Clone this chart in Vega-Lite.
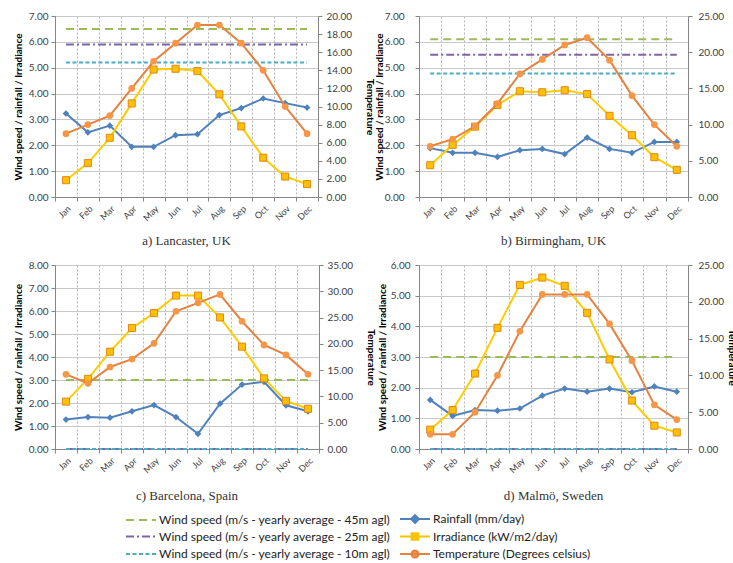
{
  "$schema": "https://vega.github.io/schema/vega-lite/v6.json",
  "padding": {"left": 13, "top": 11, "right": 5, "bottom": 5},
  "config": {
    "view": {"stroke": null},
    "font": "Lato",
    "axis": {"labelFont": "Lato", "titleFont": "Lato", "labelColor": "#404040", "titleColor": "#000000", "domainColor": "#868686", "tickColor": "#868686", "tickSize": 4, "labelFontSize": 10, "titleFontSize": 10, "titleFontWeight": "bold", "labelFlush": false, "labelOverlap": false},
    "title": {"orient": "bottom", "font": "Liberation Serif", "fontSize": 13, "fontWeight": "normal", "color": "#333333", "offset": 12, "anchor": "middle"}
  },
  "data": {"values": [
    {"c":"a","m":"Jan","rain":3.23,"irr":0.65,"temp":7.0,"w45":6.5,"w25":5.9,"w10":5.2},
    {"c":"a","m":"Feb","rain":2.50,"irr":1.31,"temp":8.0,"w45":6.5,"w25":5.9,"w10":5.2},
    {"c":"a","m":"Mar","rain":2.76,"irr":2.29,"temp":9.0,"w45":6.5,"w25":5.9,"w10":5.2},
    {"c":"a","m":"Apr","rain":1.94,"irr":3.62,"temp":12.0,"w45":6.5,"w25":5.9,"w10":5.2},
    {"c":"a","m":"May","rain":1.94,"irr":4.93,"temp":15.0,"w45":6.5,"w25":5.9,"w10":5.2},
    {"c":"a","m":"Jun","rain":2.39,"irr":4.96,"temp":17.0,"w45":6.5,"w25":5.9,"w10":5.2},
    {"c":"a","m":"Jul","rain":2.43,"irr":4.87,"temp":19.0,"w45":6.5,"w25":5.9,"w10":5.2},
    {"c":"a","m":"Aug","rain":3.17,"irr":3.97,"temp":19.0,"w45":6.5,"w25":5.9,"w10":5.2},
    {"c":"a","m":"Sep","rain":3.44,"irr":2.73,"temp":17.0,"w45":6.5,"w25":5.9,"w10":5.2},
    {"c":"a","m":"Oct","rain":3.81,"irr":1.52,"temp":14.0,"w45":6.5,"w25":5.9,"w10":5.2},
    {"c":"a","m":"Nov","rain":3.63,"irr":0.79,"temp":10.0,"w45":6.5,"w25":5.9,"w10":5.2},
    {"c":"a","m":"Dec","rain":3.46,"irr":0.50,"temp":7.0,"w45":6.5,"w25":5.9,"w10":5.2},
    {"c":"b","m":"Jan","rain":1.89,"irr":1.23,"temp":7.0,"w45":6.1,"w25":5.5,"w10":4.78},
    {"c":"b","m":"Feb","rain":1.71,"irr":2.02,"temp":8.0,"w45":6.1,"w25":5.5,"w10":4.78},
    {"c":"b","m":"Mar","rain":1.71,"irr":2.72,"temp":9.8,"w45":6.1,"w25":5.5,"w10":4.78},
    {"c":"b","m":"Apr","rain":1.55,"irr":3.56,"temp":12.9,"w45":6.1,"w25":5.5,"w10":4.78},
    {"c":"b","m":"May","rain":1.81,"irr":4.09,"temp":17.0,"w45":6.1,"w25":5.5,"w10":4.78},
    {"c":"b","m":"Jun","rain":1.86,"irr":4.05,"temp":19.0,"w45":6.1,"w25":5.5,"w10":4.78},
    {"c":"b","m":"Jul","rain":1.66,"irr":4.13,"temp":21.0,"w45":6.1,"w25":5.5,"w10":4.78},
    {"c":"b","m":"Aug","rain":2.30,"irr":3.98,"temp":22.0,"w45":6.1,"w25":5.5,"w10":4.78},
    {"c":"b","m":"Sep","rain":1.86,"irr":3.14,"temp":18.9,"w45":6.1,"w25":5.5,"w10":4.78},
    {"c":"b","m":"Oct","rain":1.71,"irr":2.39,"temp":14.0,"w45":6.1,"w25":5.5,"w10":4.78},
    {"c":"b","m":"Nov","rain":2.13,"irr":1.54,"temp":10.0,"w45":6.1,"w25":5.5,"w10":4.78},
    {"c":"b","m":"Dec","rain":2.13,"irr":1.05,"temp":7.0,"w45":6.1,"w25":5.5,"w10":4.78},
    {"c":"c","m":"Jan","rain":1.28,"irr":2.06,"temp":14.2,"w45":3.0,"w25":0,"w10":0},
    {"c":"c","m":"Feb","rain":1.39,"irr":3.05,"temp":12.5,"w45":3.0,"w25":0,"w10":0},
    {"c":"c","m":"Mar","rain":1.36,"irr":4.23,"temp":15.6,"w45":3.0,"w25":0,"w10":0},
    {"c":"c","m":"Apr","rain":1.64,"irr":5.26,"temp":17.1,"w45":3.0,"w25":0,"w10":0},
    {"c":"c","m":"May","rain":1.91,"irr":5.91,"temp":20.1,"w45":3.0,"w25":0,"w10":0},
    {"c":"c","m":"Jun","rain":1.39,"irr":6.67,"temp":26.2,"w45":3.0,"w25":0,"w10":0},
    {"c":"c","m":"Jul","rain":0.66,"irr":6.67,"temp":27.8,"w45":3.0,"w25":0,"w10":0},
    {"c":"c","m":"Aug","rain":1.97,"irr":5.72,"temp":29.4,"w45":3.0,"w25":0,"w10":0},
    {"c":"c","m":"Sep","rain":2.80,"irr":4.45,"temp":24.3,"w45":3.0,"w25":0,"w10":0},
    {"c":"c","m":"Oct","rain":2.92,"irr":3.07,"temp":19.8,"w45":3.0,"w25":0,"w10":0},
    {"c":"c","m":"Nov","rain":1.90,"irr":2.09,"temp":17.9,"w45":3.0,"w25":0,"w10":0},
    {"c":"c","m":"Dec","rain":1.64,"irr":1.75,"temp":14.2,"w45":3.0,"w25":0,"w10":0},
    {"c":"d","m":"Jan","rain":1.60,"irr":0.63,"temp":2.0,"w45":3.0,"w25":0,"w10":0},
    {"c":"d","m":"Feb","rain":1.08,"irr":1.27,"temp":2.0,"w45":3.0,"w25":0,"w10":0},
    {"c":"d","m":"Mar","rain":1.27,"irr":2.46,"temp":5.0,"w45":3.0,"w25":0,"w10":0},
    {"c":"d","m":"Apr","rain":1.25,"irr":3.95,"temp":10.0,"w45":3.0,"w25":0,"w10":0},
    {"c":"d","m":"May","rain":1.32,"irr":5.35,"temp":16.0,"w45":3.0,"w25":0,"w10":0},
    {"c":"d","m":"Jun","rain":1.74,"irr":5.59,"temp":21.0,"w45":3.0,"w25":0,"w10":0},
    {"c":"d","m":"Jul","rain":1.97,"irr":5.32,"temp":21.0,"w45":3.0,"w25":0,"w10":0},
    {"c":"d","m":"Aug","rain":1.87,"irr":4.44,"temp":21.0,"w45":3.0,"w25":0,"w10":0},
    {"c":"d","m":"Sep","rain":1.97,"irr":2.92,"temp":17.0,"w45":3.0,"w25":0,"w10":0},
    {"c":"d","m":"Oct","rain":1.85,"irr":1.58,"temp":12.0,"w45":3.0,"w25":0,"w10":0},
    {"c":"d","m":"Nov","rain":2.04,"irr":0.76,"temp":6.0,"w45":3.0,"w25":0,"w10":0},
    {"c":"d","m":"Dec","rain":1.87,"irr":0.54,"temp":4.0,"w45":3.0,"w25":0,"w10":0}
  ]},
  "transform": [{"fold": ["w45","w25","w10","rain","irr","temp"], "as": ["series","value"]}],
  "spacing": 12,
  "vconcat": [
    {
      "spacing": -1,
      "hconcat": [
        {
          "width": 263, "height": 181,
          "transform": [{"filter": "datum.c == 'a'"}],
          "title": {"text": "a) Lancaster, UK"},
          "encoding": {"x": {"field": "m", "type": "ordinal", "sort": ["Jan","Feb","Mar","Apr","May","Jun","Jul","Aug","Sep","Oct","Nov","Dec"], "scale": {"type": "band", "paddingInner": 0, "paddingOuter": 0}, "axis": {"title": null, "labelAngle": -45, "tickBand": "extent", "grid": true, "gridDash": [2,2], "gridColor": "#B4B4B4", "labelFontSize": 9, "labelPadding": 3}}},
          "layer": [
            {
              "encoding": {"y": {"field": "value", "type": "quantitative", "scale": {"domain": [0,7], "nice": false}, "axis": {"values": [0,1,2,3,4,5,6,7], "format": ".2f", "title": "Wind speed / rainfall / Irradiance", "grid": true, "gridColor": "#C8C8C8", "labelPadding": 3, "titlePadding": 5}}},
              "layer": [
                {"transform": [{"filter": "datum.series == 'w45'"}], "mark": {"type": "line", "color": "#9BBB59", "strokeWidth": 2, "strokeDash": [8,5]}, "encoding": {}},
                {"transform": [{"filter": "datum.series == 'w25'"}], "mark": {"type": "line", "color": "#8064A2", "strokeWidth": 2, "strokeDash": [8,3,2,3]}, "encoding": {}},
                {"transform": [{"filter": "datum.series == 'w10'"}], "mark": {"type": "line", "color": "#4BACC6", "strokeWidth": 2, "strokeDash": [4,2.5]}, "encoding": {}},
                {"transform": [{"filter": "datum.series == 'rain'"}], "mark": {"type": "line", "color": "#4F81BD", "strokeWidth": 2, "point": {"shape": "diamond", "filled": true, "size": 45, "color": "#4F81BD"}}, "encoding": {}},
                {"transform": [{"filter": "datum.series == 'irr'"}], "mark": {"type": "line", "color": "#FFCC00", "strokeWidth": 2, "point": {"shape": "square", "filled": true, "size": 50, "fill": "#FFC000", "stroke": "#E0881C", "strokeWidth": 1}}, "encoding": {}},
                {
                  "transform": [{"filter": "datum.m == 'Jan'"}],
                  "mark": {"type": "point", "opacity": 0, "filled": true},
                  "encoding": {
                    "fill": {"field": "series", "type": "nominal", "scale": {"domain": ["w45","w25","w10","rain","irr","temp"], "range": ["#9BBB59","#8064A2","#4BACC6","#4F81BD","#FFC000","#F79646"]},
                      "legend": {"orient": "none", "legendX": 79, "legendY": 496, "columns": 2, "title": null, "padding": 0, "symbolSize": 144, "symbolStrokeWidth": 2, "symbolOpacity": 1, "labelFont": "Lato", "labelFontSize": 12, "labelColor": "#222222", "labelOffset": 11, "rowPadding": 1.5, "columnPadding": 5, "labelLimit": 400,
                        "encode": {"symbols": {"update": {"fill": {"scale": "fill", "field": "value"}, "opacity": {"value": 1}}}},
                        "labelExpr": "datum.label == 'w45' ? 'Wind speed (m/s - yearly average - 45m agl)' : datum.label == 'w25' ? 'Wind speed (m/s - yearly average - 25m agl)' : datum.label == 'w10' ? 'Wind speed (m/s - yearly average - 10m agl)' : datum.label == 'rain' ? 'Rainfall (mm/day)' : datum.label == 'irr' ? 'Irradiance (kW/m2/day)' : 'Temperature (Degrees celsius)'"}},
                    "stroke": {"field": "series", "type": "nominal", "scale": {"domain": ["w45","w25","w10","rain","irr","temp"], "range": ["#9BBB59","#8064A2","#4BACC6","#4F81BD","#F5C400","#E5823F"]}},
                    "shape": {"field": "series", "type": "nominal", "scale": {"domain": ["w45","w25","w10","rain","irr","temp"], "range": ["M-2.5,0H2.5","M-2.5,0H2.5","M-2.5,0H2.5","M-2.5,0H2.5M0,-0.65L0.65,0L0,0.65L-0.65,0Z","M-2.5,0H2.5M-0.55,-0.55H0.55V0.55H-0.55Z","M-2.5,0H2.5M-0.58,0A0.58,0.58 0 1,0 0.58,0A0.58,0.58 0 1,0 -0.58,0Z"]}},
                    "strokeDash": {"field": "series", "type": "nominal", "scale": {"domain": ["w45","w25","w10","rain","irr","temp"], "range": [[8,5],[8,3,2,3],[4,2.5],[1,0],[1,0],[1,0]]}}
                  }
                }
              ]
            },
            {"transform": [{"filter": "datum.series == 'temp'"}], "mark": {"type": "line", "color": "#E5823F", "strokeWidth": 2, "point": {"filled": true, "size": 45, "color": "#F79646"}},
             "encoding": {"y": {"field": "value", "type": "quantitative", "scale": {"domain": [0,20], "nice": false}, "axis": {"orient": "right", "values": [0,2,4,6,8,10,12,14,16,18,20], "format": ".2f", "title": "Temperature", "grid": false, "labelPadding": 4, "titlePadding": 13}}}}
          ],
          "resolve": {"scale": {"y": "independent"}}
        },
        {
          "width": 269, "height": 181,
          "transform": [{"filter": "datum.c == 'b'"}],
          "title": {"text": "b) Birmingham, UK"},
          "encoding": {"x": {"field": "m", "type": "ordinal", "sort": ["Jan","Feb","Mar","Apr","May","Jun","Jul","Aug","Sep","Oct","Nov","Dec"], "scale": {"type": "band", "paddingInner": 0, "paddingOuter": 0}, "axis": {"title": null, "labelAngle": -45, "tickBand": "extent", "grid": true, "gridDash": [2,2], "gridColor": "#B4B4B4", "labelFontSize": 9, "labelPadding": 3}}},
          "layer": [
            {
              "encoding": {"y": {"field": "value", "type": "quantitative", "scale": {"domain": [0,7], "nice": false}, "axis": {"values": [0,1,2,3,4,5,6,7], "format": ".2f", "title": "Wind speed / rainfall / Irradiance", "grid": true, "gridColor": "#C8C8C8", "labelPadding": 11, "titlePadding": 0}}},
              "layer": [
                {"transform": [{"filter": "datum.series == 'w45'"}], "mark": {"type": "line", "color": "#9BBB59", "strokeWidth": 2, "strokeDash": [8,5]}, "encoding": {}},
                {"transform": [{"filter": "datum.series == 'w25'"}], "mark": {"type": "line", "color": "#8064A2", "strokeWidth": 2, "strokeDash": [8,3,2,3]}, "encoding": {}},
                {"transform": [{"filter": "datum.series == 'w10'"}], "mark": {"type": "line", "color": "#4BACC6", "strokeWidth": 2, "strokeDash": [4,2.5]}, "encoding": {}},
                {"transform": [{"filter": "datum.series == 'rain'"}], "mark": {"type": "line", "color": "#4F81BD", "strokeWidth": 2, "point": {"shape": "diamond", "filled": true, "size": 45, "color": "#4F81BD"}}, "encoding": {}},
                {"transform": [{"filter": "datum.series == 'irr'"}], "mark": {"type": "line", "color": "#FFCC00", "strokeWidth": 2, "point": {"shape": "square", "filled": true, "size": 50, "fill": "#FFC000", "stroke": "#E0881C", "strokeWidth": 1}}, "encoding": {}}
              ]
            },
            {"transform": [{"filter": "datum.series == 'temp'"}], "mark": {"type": "line", "color": "#E5823F", "strokeWidth": 2, "point": {"filled": true, "size": 45, "color": "#F79646"}},
             "encoding": {"y": {"field": "value", "type": "quantitative", "scale": {"domain": [0,25], "nice": false}, "axis": {"orient": "right", "values": [0,5,10,15,20,25], "format": ".2f", "title": null, "grid": false, "labelPadding": 6}}}}
          ],
          "resolve": {"scale": {"y": "independent"}}
        }
      ]
    },
    {
      "spacing": 1,
      "hconcat": [
        {
          "width": 264, "height": 184,
          "transform": [{"filter": "datum.c == 'c'"}],
          "title": {"text": "c) Barcelona, Spain", "offset": 15},
          "encoding": {"x": {"field": "m", "type": "ordinal", "sort": ["Jan","Feb","Mar","Apr","May","Jun","Jul","Aug","Sep","Oct","Nov","Dec"], "scale": {"type": "band", "paddingInner": 0, "paddingOuter": 0}, "axis": {"title": null, "labelAngle": -45, "tickBand": "extent", "grid": true, "gridDash": [2,2], "gridColor": "#B4B4B4", "labelFontSize": 9, "labelPadding": 3}}},
          "layer": [
            {
              "encoding": {"y": {"field": "value", "type": "quantitative", "scale": {"domain": [0,8], "nice": false}, "axis": {"values": [0,1,2,3,4,5,6,7,8], "format": ".2f", "title": "Wind speed / rainfall / Irradiance", "grid": true, "gridColor": "#C8C8C8", "labelPadding": 3, "titlePadding": 5}}},
              "layer": [
                {"transform": [{"filter": "datum.series == 'w45'"}], "mark": {"type": "line", "color": "#9BBB59", "strokeWidth": 2, "strokeDash": [8,5]}, "encoding": {}},
                {"transform": [{"filter": "datum.series == 'w25'"}], "mark": {"type": "line", "color": "#8064A2", "strokeWidth": 2, "strokeDash": [8,3,2,3]}, "encoding": {}},
                {"transform": [{"filter": "datum.series == 'w10'"}], "mark": {"type": "line", "color": "#4BACC6", "strokeWidth": 2, "strokeDash": [4,2.5]}, "encoding": {}},
                {"transform": [{"filter": "datum.series == 'rain'"}], "mark": {"type": "line", "color": "#4F81BD", "strokeWidth": 2, "point": {"shape": "diamond", "filled": true, "size": 45, "color": "#4F81BD"}}, "encoding": {}},
                {"transform": [{"filter": "datum.series == 'irr'"}], "mark": {"type": "line", "color": "#FFCC00", "strokeWidth": 2, "point": {"shape": "square", "filled": true, "size": 50, "fill": "#FFC000", "stroke": "#E0881C", "strokeWidth": 1}}, "encoding": {}}
              ]
            },
            {"transform": [{"filter": "datum.series == 'temp'"}], "mark": {"type": "line", "color": "#E5823F", "strokeWidth": 2, "point": {"filled": true, "size": 45, "color": "#F79646"}},
             "encoding": {"y": {"field": "value", "type": "quantitative", "scale": {"domain": [0,35], "nice": false}, "axis": {"orient": "right", "values": [0,5,10,15,20,25,30,35], "format": ".2f", "title": "Temperature", "grid": false, "labelPadding": 4, "titlePadding": 13}}}}
          ],
          "resolve": {"scale": {"y": "independent"}}
        },
        {
          "width": 269, "height": 184,
          "transform": [{"filter": "datum.c == 'd'"}],
          "title": {"text": "d) Malmö, Sweden", "offset": 15},
          "encoding": {"x": {"field": "m", "type": "ordinal", "sort": ["Jan","Feb","Mar","Apr","May","Jun","Jul","Aug","Sep","Oct","Nov","Dec"], "scale": {"type": "band", "paddingInner": 0, "paddingOuter": 0}, "axis": {"title": null, "labelAngle": -45, "tickBand": "extent", "grid": true, "gridDash": [2,2], "gridColor": "#B4B4B4", "labelFontSize": 9, "labelPadding": 3}}},
          "layer": [
            {
              "encoding": {"y": {"field": "value", "type": "quantitative", "scale": {"domain": [0,6], "nice": false}, "axis": {"values": [0,1,2,3,4,5,6], "format": ".2f", "title": "Wind speed / rainfall / Irradiance", "grid": true, "gridColor": "#C8C8C8", "labelPadding": 5, "titlePadding": 3}}},
              "layer": [
                {"transform": [{"filter": "datum.series == 'w45'"}], "mark": {"type": "line", "color": "#9BBB59", "strokeWidth": 2, "strokeDash": [8,5]}, "encoding": {}},
                {"transform": [{"filter": "datum.series == 'w25'"}], "mark": {"type": "line", "color": "#8064A2", "strokeWidth": 2, "strokeDash": [8,3,2,3]}, "encoding": {}},
                {"transform": [{"filter": "datum.series == 'w10'"}], "mark": {"type": "line", "color": "#4BACC6", "strokeWidth": 2, "strokeDash": [4,2.5]}, "encoding": {}},
                {"transform": [{"filter": "datum.series == 'rain'"}], "mark": {"type": "line", "color": "#4F81BD", "strokeWidth": 2, "point": {"shape": "diamond", "filled": true, "size": 45, "color": "#4F81BD"}}, "encoding": {}},
                {"transform": [{"filter": "datum.series == 'irr'"}], "mark": {"type": "line", "color": "#FFCC00", "strokeWidth": 2, "point": {"shape": "square", "filled": true, "size": 50, "fill": "#FFC000", "stroke": "#E0881C", "strokeWidth": 1}}, "encoding": {}}
              ]
            },
            {"transform": [{"filter": "datum.series == 'temp'"}], "mark": {"type": "line", "color": "#E5823F", "strokeWidth": 2, "point": {"filled": true, "size": 45, "color": "#F79646"}},
             "encoding": {"y": {"field": "value", "type": "quantitative", "scale": {"domain": [0,25], "nice": false}, "axis": {"orient": "right", "values": [0,5,10,15,20,25], "format": ".2f", "title": "Temperature", "grid": false, "labelPadding": 6, "titlePadding": 3}}}}
          ],
          "resolve": {"scale": {"y": "independent"}}
        }
      ]
    }
  ]
}
